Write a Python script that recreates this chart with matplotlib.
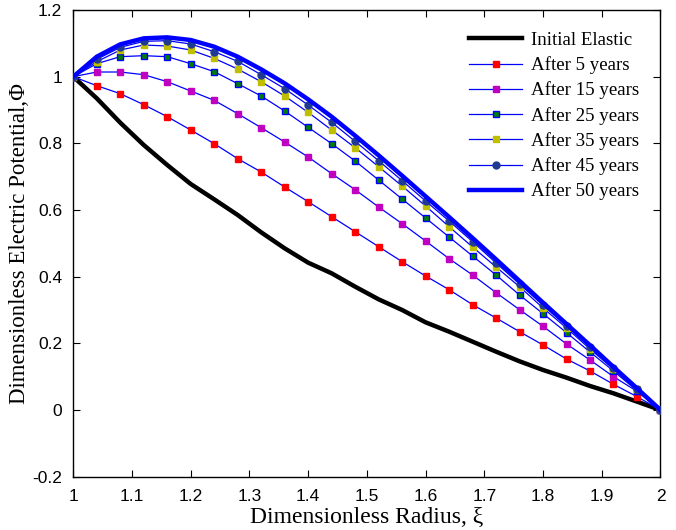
import matplotlib
matplotlib.use("Agg")
import matplotlib.pyplot as plt
import numpy as np

xi = [1.00, 1.04, 1.08, 1.12, 1.16, 1.20, 1.24, 1.28, 1.32, 1.36, 1.40, 1.44, 1.48,
      1.52, 1.56, 1.60, 1.64, 1.68, 1.72, 1.76, 1.80, 1.84, 1.88, 1.92, 1.96, 2.00]

initial_elastic = [1.0, 0.935, 0.862, 0.795, 0.735, 0.678, 0.632, 0.585, 0.533, 0.485,
                   0.442, 0.410, 0.370, 0.332, 0.300, 0.263, 0.235, 0.205, 0.175, 0.146,
                   0.120, 0.097, 0.072, 0.050, 0.025, 0.0]
after_5 = [1.0, 0.973, 0.949, 0.916, 0.880, 0.840, 0.799, 0.754, 0.714, 0.669, 0.625,
           0.580, 0.535, 0.490, 0.445, 0.402, 0.361, 0.316, 0.276, 0.235, 0.195, 0.153,
           0.117, 0.077, 0.040, 0.0]
after_15 = [1.0, 1.014, 1.014, 1.006, 0.985, 0.957, 0.929, 0.889, 0.847, 0.804, 0.759,
            0.709, 0.661, 0.609, 0.559, 0.507, 0.454, 0.405, 0.352, 0.301, 0.251, 0.198,
            0.150, 0.100, 0.056, 0.0]
after_25 = [1.0, 1.039, 1.060, 1.063, 1.060, 1.039, 1.015, 0.979, 0.942, 0.897, 0.848,
            0.799, 0.747, 0.690, 0.633, 0.576, 0.519, 0.462, 0.405, 0.345, 0.289, 0.232,
            0.174, 0.117, 0.058, 0.0]
after_35 = [1.0, 1.045, 1.080, 1.095, 1.092, 1.080, 1.055, 1.023, 0.985, 0.942, 0.893,
            0.840, 0.787, 0.730, 0.672, 0.612, 0.550, 0.489, 0.429, 0.370, 0.306, 0.246,
            0.183, 0.123, 0.062, 0.0]
after_45 = [1.0, 1.052, 1.088, 1.106, 1.108, 1.098, 1.075, 1.046, 1.006, 0.964, 0.915,
            0.863, 0.806, 0.748, 0.688, 0.627, 0.567, 0.505, 0.441, 0.378, 0.314, 0.252,
            0.189, 0.126, 0.063, 0.0]
after_50 = [1.0, 1.060, 1.097, 1.115, 1.118, 1.110, 1.090, 1.060, 1.022, 0.980, 0.932,
            0.880, 0.823, 0.764, 0.703, 0.641, 0.579, 0.516, 0.452, 0.387, 0.322, 0.258,
            0.194, 0.129, 0.065, 0.0]

labels = ["Initial Elastic", "After 5 years", "After 15 years", "After 25 years",
          "After 35 years", "After 45 years", "After 50 years"]
x_ticks = [1, 1.1, 1.2, 1.3, 1.4, 1.5, 1.6, 1.7, 1.8, 1.9, 2]
x_tick_labels = ["1", "1.1", "1.2", "1.3", "1.4", "1.5", "1.6", "1.7", "1.8", "1.9", "2"]
y_ticks = [-0.2, 0, 0.2, 0.4, 0.6, 0.8, 1, 1.2]
y_tick_labels = ["-0.2", "0", "0.2", "0.4", "0.6", "0.8", "1", "1.2"]

fig = plt.figure(figsize=(6.76, 5.30), dpi=100)
ax = fig.add_axes([0.1084, 0.1007, 0.8686, 0.8804])

ax.plot(xi, initial_elastic, color="black", lw=3.2, label=labels[0], zorder=3)
ax.plot(xi, after_5, color="#0000ff", lw=0.9, marker="s", ms=5, mfc="#ff0000",
        mec="#ff0000", label=labels[1], zorder=4)
ax.plot(xi, after_15, color="#0000ff", lw=0.9, marker="s", ms=5, mfc="#c000c0",
        mec="#c000c0", label=labels[2], zorder=4)
ax.plot(xi, after_25, color="#0000ff", lw=0.9, marker="s", ms=5, mfc="#007f00",
        mec="#0000ff", mew=1.0, label=labels[3], zorder=4)
ax.plot(xi, after_35, color="#0000ff", lw=0.9, marker="s", ms=5, mfc="#bfbf00",
        mec="#bfbf00", label=labels[4], zorder=4)
ax.plot(xi, after_45, color="#0000ff", lw=0.9, marker="o", ms=5, mfc="#1f3a93",
        mec="#1f3a93", label=labels[5], zorder=4)
ax.plot(xi, after_50, color="#0000ff", lw=3.2, label=labels[6], zorder=5)

ax.set_xlim(1, 2)
ax.set_ylim(-0.2, 1.2)
ax.set_xticks(x_ticks)
ax.set_xticklabels(x_tick_labels)
ax.set_yticks(y_ticks)
ax.set_yticklabels(y_tick_labels)
ax.tick_params(direction="in", top=True, right=True, length=5, width=0.8,
               labelsize=12.5)
ax.tick_params(axis="x", pad=9)
ax.tick_params(axis="y", pad=8)
for lab in ax.get_xticklabels() + ax.get_yticklabels():
    lab.set_fontfamily("Liberation Sans")
for s in ax.spines.values():
    s.set_linewidth(1.0)

ax.set_xlabel("Dimensionless Radius, ξ", fontfamily="Liberation Serif",
              fontsize=17, labelpad=2)
ax.set_ylabel("Dimensionless Electric Potential,Φ", fontfamily="Liberation Serif",
              fontsize=16.5, labelpad=2)

leg = ax.legend(loc="upper right", frameon=False,
                prop={"family": "Liberation Serif", "size": 13.6},
                handlelength=2.8, handletextpad=0.45, labelspacing=0.39,
                borderaxespad=0.75)

fig.savefig("out.png", dpi=100)
